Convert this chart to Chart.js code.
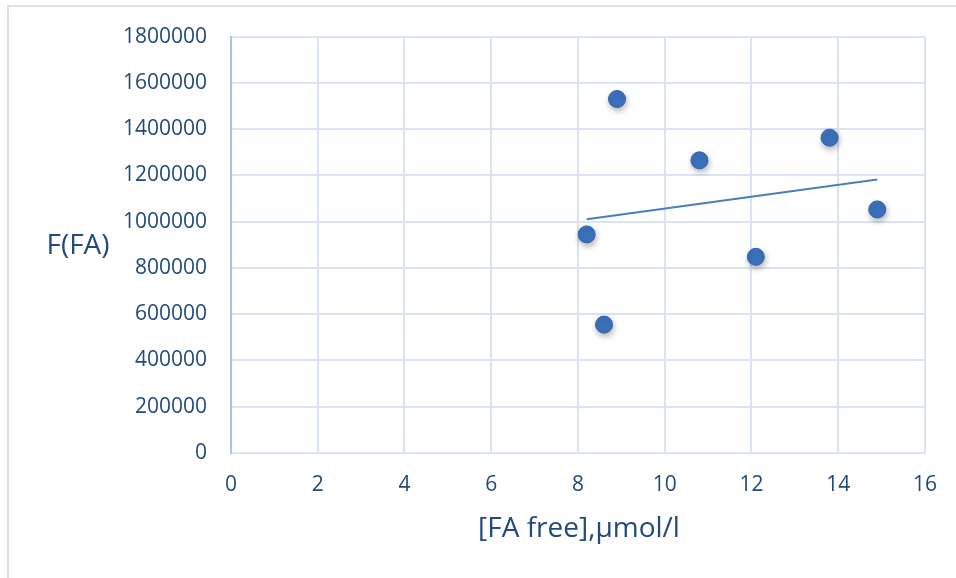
<!DOCTYPE html>
<html>
<head>
<meta charset="utf-8">
<script src="https://cdn.jsdelivr.net/npm/chart.js@4/dist/chart.umd.min.js"></script>
<style>
  html, body { margin: 0; padding: 0; background: #fff; }
  #wrap { position: relative; width: 956px; height: 578px; overflow: hidden; }
  #frame { position: absolute; left: 7px; top: 5px; width: 970px; height: 600px;
           border-left: 2px solid #d8e2f2; border-top: 2px solid #d8e2f2; box-sizing: border-box; }
  canvas { position: absolute; left: 0; top: 0; }
</style>
</head>
<body>
<div id="wrap">
  <div id="frame"></div>
  <canvas id="c" width="956" height="578"></canvas>
</div>
<script>
// Data
const faFree = [8.2, 8.6, 8.9, 10.8, 12.1, 13.8, 14.9];
const fFA = [945000, 555000, 1530000, 1265000, 848000, 1363000, 1053000];
const trendX = [8.2, 14.9];
const trendY = [1010000, 1182000];
const xTitle = "[FA free],µmol/l";
const yTitle = "F(FA)";

const textColor = '#234a7d';
const gridColor = '#d9e3f3';
const fontFam = "'Open Sans', 'Liberation Sans', sans-serif";

const scatterPts = faFree.map((x, i) => ({ x: x, y: fFA[i] }));
const trendPts = trendX.map((x, i) => ({ x: x, y: trendY[i] }));

const decor = {
  id: 'decor',
  beforeDatasetDraw(chart, args) {
    if (args.index === 1) {
      const ctx = chart.ctx;
      ctx.save();
      ctx.shadowColor = 'rgba(0,0,0,0.3)';
      ctx.shadowBlur = 6;
      ctx.shadowOffsetX = 1;
      ctx.shadowOffsetY = 3;
    }
  },
  afterDatasetDraw(chart, args) {
    if (args.index === 1) chart.ctx.restore();
  },
  afterDraw(chart) {
    const ctx = chart.ctx;
    ctx.save();
    ctx.fillStyle = textColor;
    ctx.font = "28px " + fontFam;
    ctx.textBaseline = 'middle';
    ctx.textAlign = 'center';
    ctx.fillText(yTitle, 78, 246);
    ctx.fillText(xTitle, 579, 529);
    ctx.restore();
  }
};

new Chart(document.getElementById('c'), {
  type: 'scatter',
  data: {
    datasets: [
      {
        type: 'line',
        data: trendPts,
        borderColor: '#4a7ebb',
        borderWidth: 2,
        pointRadius: 0,
        fill: false,
        order: 2
      },
      {
        data: scatterPts,
        backgroundColor: '#3b72bd',
        borderColor: '#2f62a8',
        borderWidth: 1,
        pointRadius: 8.5,
        pointHoverRadius: 8.5,
        order: 1
      }
    ]
  },
  options: {
    responsive: false,
    animation: false,
    layout: { padding: { left: 0, top: 35, right: 28, bottom: 0 } },
    plugins: { legend: { display: false }, tooltip: { enabled: false } },
    scales: {
      x: {
        type: 'linear',
        min: 0, max: 16,
        ticks: { stepSize: 2, color: textColor, font: { size: 21, family: fontFam }, padding: 19, maxRotation: 0 },
        grid: { color: gridColor, lineWidth: 2, drawTicks: false },
        border: { color: gridColor, width: 2 },
        afterFit(s) { s.height = 125; }
      },
      y: {
        min: 0, max: 1800000,
        ticks: { stepSize: 200000, color: textColor, font: { size: 21, family: fontFam }, padding: 24,
                 callback: v => String(v) },
        grid: { color: gridColor, lineWidth: 2, drawTicks: false },
        border: { color: '#a9c4ea', width: 2 },
        afterFit(s) { s.width = 231; }
      }
    }
  },
  plugins: [decor]
});
</script>
</body>
</html>
